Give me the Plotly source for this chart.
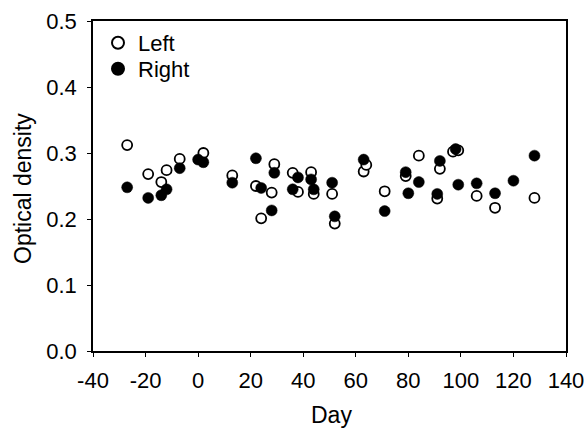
import plotly.graph_objects as go

left_day = [-27, -19, -14, -12, -7, 2, 13, 22, 24, 28, 29, 36, 38, 43, 44, 51, 52, 63, 64, 71, 79, 84, 91, 92, 97, 99, 106, 113, 128]
left_od = [0.312, 0.268, 0.256, 0.274, 0.291, 0.300, 0.266, 0.250, 0.201, 0.240, 0.283, 0.270, 0.241, 0.271, 0.238, 0.238, 0.193, 0.272, 0.282, 0.242, 0.265, 0.296, 0.231, 0.276, 0.302, 0.304, 0.235, 0.217, 0.232]

right_day = [-27, -19, -14, -12, -7, 0, 2, 13, 22, 24, 28, 29, 36, 38, 43, 44, 51, 52, 63, 71, 79, 80, 84, 91, 92, 98, 99, 106, 113, 120, 128]
right_od = [0.248, 0.232, 0.236, 0.245, 0.277, 0.290, 0.286, 0.255, 0.292, 0.247, 0.213, 0.270, 0.245, 0.263, 0.260, 0.245, 0.255, 0.204, 0.290, 0.212, 0.271, 0.239, 0.256, 0.238, 0.288, 0.306, 0.252, 0.254, 0.239, 0.258, 0.296]

x_ticks = [-40, -20, 0, 20, 40, 60, 80, 100, 120, 140]
x_ticktext = ["-40", "-20", "0", "20", "40", "60", "80", "100", "120", "140"]
y_ticks = [0.0, 0.1, 0.2, 0.3, 0.4, 0.5]
y_ticktext = ["0.0", "0.1", "0.2", "0.3", "0.4", "0.5"]

font = "Liberation Sans, Arial, sans-serif"
tick_size = 22
title_size = 23
legend_size = 22

# plot area in pixels
L, R, T, B = 93, 20, 21, 79
W, H = 586, 430
plot_w = W - L - R
plot_h = H - T - B


def px_x(x):
    return (x - L) / plot_w


def px_y(y):
    return (H - B - y) / plot_h


fig = go.Figure()
fig.add_trace(go.Scatter(x=left_day, y=left_od, mode="markers", name="Left",
                         legend="legend",
                         marker=dict(symbol="circle", size=10, color="white",
                                     line=dict(color="black", width=1.8))))
fig.add_trace(go.Scatter(x=right_day, y=right_od, mode="markers", name="Right",
                         legend="legend2",
                         marker=dict(symbol="circle", size=11, color="black",
                                     line=dict(color="black", width=0.5))))

axis_common = dict(showline=True, linecolor="black", linewidth=1.5, mirror=True,
                   ticks="outside", ticklen=4, tickcolor="black", tickwidth=1,
                   showgrid=False, zeroline=False, automargin=False,
                   tickfont=dict(family=font, size=tick_size, color="black"))

legend_common = dict(xanchor="left", yanchor="middle",
                     font=dict(family=font, size=legend_size, color="black"),
                     bgcolor="rgba(0,0,0,0)", itemsizing="constant")

fig.update_layout(
    width=W, height=H,
    margin=dict(l=L, r=R, t=T, b=B),
    paper_bgcolor="white", plot_bgcolor="white",
    showlegend=True,
    legend=dict(x=px_x(98), y=px_y(43), **legend_common),
    legend2=dict(x=px_x(98), y=px_y(69), **legend_common),
    xaxis=dict(range=[-40, 140], tickvals=x_ticks, ticktext=x_ticktext,
               ticklabelstandoff=5, **axis_common),
    yaxis=dict(range=[0, 0.5], tickvals=y_ticks, ticktext=y_ticktext,
               ticklabelstandoff=6, **axis_common),
    annotations=[
        dict(text="Day", x=px_x(331), y=px_y(415), xref="paper", yref="paper",
             showarrow=False, xanchor="center", yanchor="middle",
             font=dict(family=font, size=title_size, color="black")),
        dict(text="Optical density", x=px_x(23), y=px_y(189), xref="paper", yref="paper",
             showarrow=False, textangle=-90, xanchor="center", yanchor="middle",
             font=dict(family=font, size=title_size, color="black")),
    ],
)

fig.write_html("out.html")
